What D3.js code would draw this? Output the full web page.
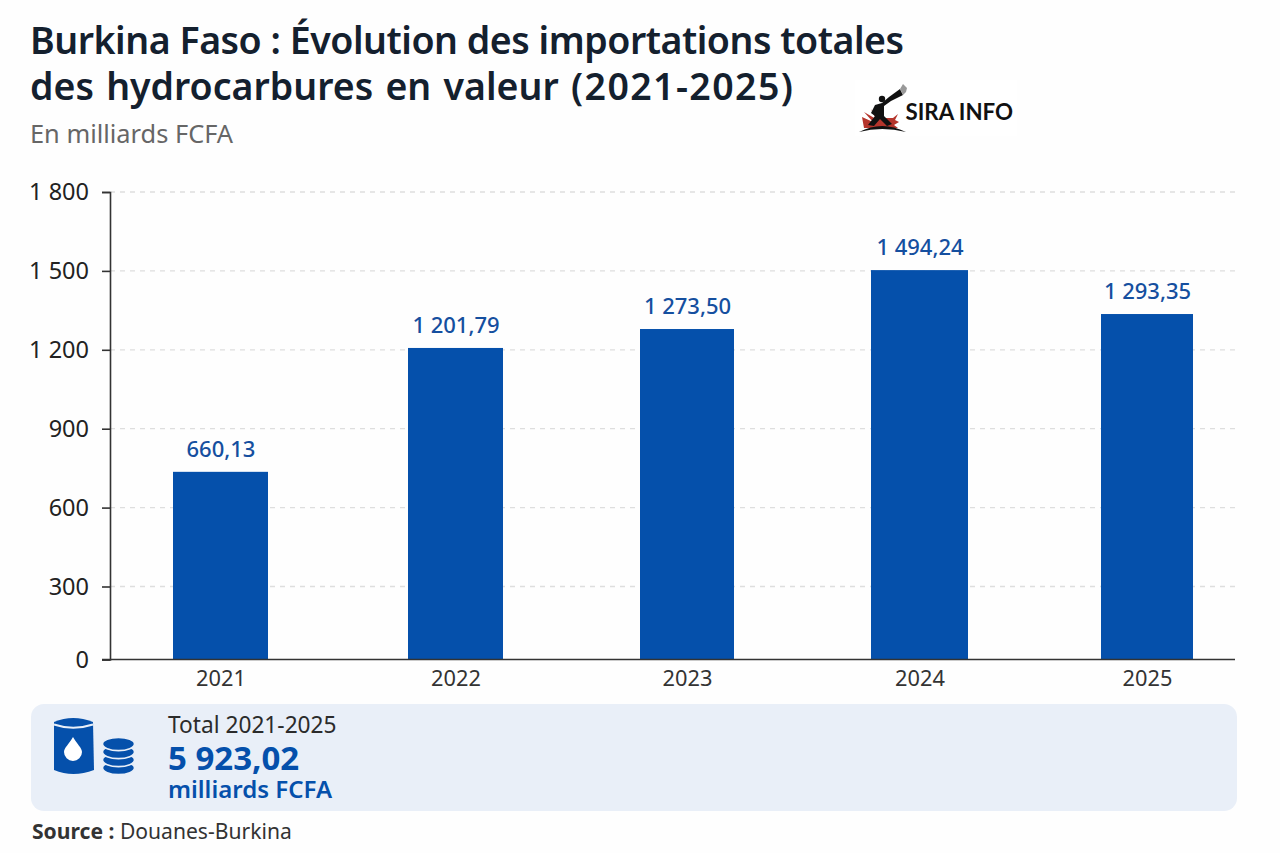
<!DOCTYPE html>
<html lang="fr">
<head>
<meta charset="UTF-8">
<title>Burkina Faso - importations d'hydrocarbures</title>
<script src="https://cdn.jsdelivr.net/npm/d3@7"></script>
<style>
    html, body { margin: 0; padding: 0; background: #fefefe; }
    svg { display: block; }
    text { font-family: "Noto Sans", sans-serif; }
    .axis text { font-size: 23.5px; fill: #222; }
    .axis path, .axis line { stroke: #333; stroke-width: 1.6px; }
    .axis-x text { font-size: 21.8px; fill: #333; }
    .grid line { stroke: #dedede; stroke-width: 1.3px; stroke-dasharray: 5 5; }
</style>
</head>
<body>
<svg width="1280" height="853"></svg>
<script>
var years = ["2021", "2022", "2023", "2024", "2025"];
// printed labels
var valueLabels = ["660,13", "1 201,79", "1 273,50", "1 494,24", "1 293,35"];
// bar heights read against the axis: the picture does not draw them to the printed values
var barValues = [736, 1207, 1279, 1503, 1336];
var yTicks = [0, 300, 600, 900, 1200, 1500, 1800];
var yTickLabels = ["0", "300", "600", "900", "1 200", "1 500", "1 800"];

var blue = "#0550ab", labelBlue = "#154f9f";
var svg = d3.select("svg");

// the source axis is not even: 0-300 is shorter than the other steps
var y = d3.scaleLinear().domain([0, 300, 1800]).range([659.5, 586.5, 192]);
var x = d3.scaleOrdinal(years, [220.5, 455.5, 687, 919.5, 1147]);
var barWidth = d3.scaleOrdinal(years, [95, 95, 94, 97, 92]);
var left = 110, right = 1235;

// title block
var title = svg.append("g").attr("fill", "#14202e").attr("font-size", 37.5).attr("font-weight", 600);
title.append("text").attr("x", 30).attr("y", 54).attr("letter-spacing", -0.47)
    .text("Burkina Faso : Évolution des importations totales");
title.append("text").attr("x", 30).attr("y", 100).attr("word-spacing", 2.5)
    .text("des hydrocarbures en valeur");
title.append("text").attr("x", 571).attr("y", 100).attr("letter-spacing", 1.4)
    .text("(2021-2025)");
svg.append("text").attr("x", 30).attr("y", 143).attr("font-size", 25.4).attr("fill", "#666")
    .text("En milliards FCFA");

// grid
svg.append("g").attr("class", "grid")
    .selectAll("line")
    .data(yTicks.slice(1))
    .enter()
    .append("line")
    .attr("x1", left).attr("x2", right)
    .attr("y1", function (d) { return y(d); })
    .attr("y2", function (d) { return y(d); });

// bars
svg.selectAll(".bar")
    .data(years)
    .enter()
    .append("rect")
    .attr("class", "bar")
    .attr("x", function (d) { return x(d) - barWidth(d) / 2; })
    .attr("y", function (d, i) { return y(barValues[i]); })
    .attr("width", function (d) { return barWidth(d); })
    .attr("height", function (d, i) { return y(0) - y(barValues[i]); })
    .attr("fill", blue);

svg.selectAll(".value")
    .data(years)
    .enter()
    .append("text")
    .attr("class", "value")
    .attr("x", function (d) { return x(d) + 0.5; })
    .attr("y", function (d, i) { return y(barValues[i]) - 15; })
    .attr("text-anchor", "middle")
    .attr("font-size", 22)
    .attr("font-weight", 500)
    .attr("fill", labelBlue)
    .text(function (d, i) { return valueLabels[i]; });

// axes
var axisY = d3.axisLeft(y)
    .tickValues(yTicks)
    .tickSize(8)
    .tickPadding(13)
    .tickFormat(function (d, i) { return yTickLabels[i]; });
svg.append("g").attr("class", "axis")
    .attr("transform", "translate(" + left + ",0)")
    .call(axisY);

var axisX = d3.axisBottom(x).tickSize(0).tickPadding(11);
var gx = svg.append("g").attr("class", "axis axis-x")
    .attr("transform", "translate(0," + y(0) + ")")
    .call(axisX);
gx.select(".domain").remove();
gx.append("line").attr("x1", left - 8).attr("x2", right);

// total panel
svg.append("rect").attr("x", 31).attr("y", 704).attr("width", 1206).attr("height", 107)
    .attr("rx", 13).attr("fill", "#e9eff8");

var icon = svg.append("g").attr("fill", blue);
icon.append("path").attr("d", "M54 722 Q73 714 93 722 L94 770 Q73 778 54 770 Z");
icon.append("path").attr("d", "M54 724.5 Q73 731 93 724.5").attr("fill", "none")
    .attr("stroke", "#e9eff8").attr("stroke-width", 2);
icon.append("path").attr("d", "M73 737 C77 744 82 748 82 752 A9 9 0 0 1 64 752 C64 748 69 744 73 737 Z")
    .attr("fill", "#fff");
[768, 760, 752, 744].forEach(function (cy) {
    icon.append("ellipse").attr("cx", 118.5).attr("cy", cy).attr("rx", 16).attr("ry", 6.6)
        .attr("stroke", "#e9eff8").attr("stroke-width", 1.6);
});

svg.append("text").attr("x", 168).attr("y", 733).attr("font-size", 22.7).attr("fill", "#2b2b2b")
    .text("Total 2021-2025");
svg.append("text").attr("x", 168).attr("y", 770).attr("font-size", 33).attr("font-weight", 700).attr("fill", blue)
    .text("5 923,02");
svg.append("text").attr("x", 168).attr("y", 798).attr("font-size", 24).attr("font-weight", 600).attr("fill", blue)
    .text("milliards FCFA");

var source = svg.append("text").attr("x", 32).attr("y", 839).attr("font-size", 21.1).attr("fill", "#333");
source.append("tspan").attr("font-weight", 700).text("Source :");
source.append("tspan").text(" Douanes-Burkina");

// logo
var logo = svg.append("g");
logo.append("rect").attr("x", 855).attr("y", 80).attr("width", 162).attr("height", 56).attr("fill", "#fff");
logo.append("path").attr("fill", "#b5352c")
    .attr("d", "M862 117 L873 122 L864 112 L876 119 L871 109 L878 118 L893 118 L898 114 L895 120 L899 122 L894 125 L898 128 L864 128 Z");
logo.append("path").attr("fill", "#111")
    .attr("d", "M859 132 Q882 120 906 132 Q882 126 859 132 Z");
logo.append("circle").attr("cx", 882).attr("cy", 99).attr("r", 3.2).attr("fill", "#111");
logo.append("path").attr("fill", "#111")
    .attr("d", "M889 97 L900 89 L903 95 L891 101 L884 106 L884 116 L892 124 L887 126 L880 119 L874 126 L868 125 L875 116 L871 113 L875 105 L882 103 Z");
logo.append("path").attr("fill", "#999").attr("d", "M900 89 L903 84 L907 88 L906 92 L903 95 Z");
logo.append("text").attr("x", 905.5).attr("y", 120).attr("font-size", 22.3).attr("font-weight", 700)
    .style("font-family", "Lato, sans-serif").attr("fill", "#111").text("SIRA INFO");
</script>
</body>
</html>
